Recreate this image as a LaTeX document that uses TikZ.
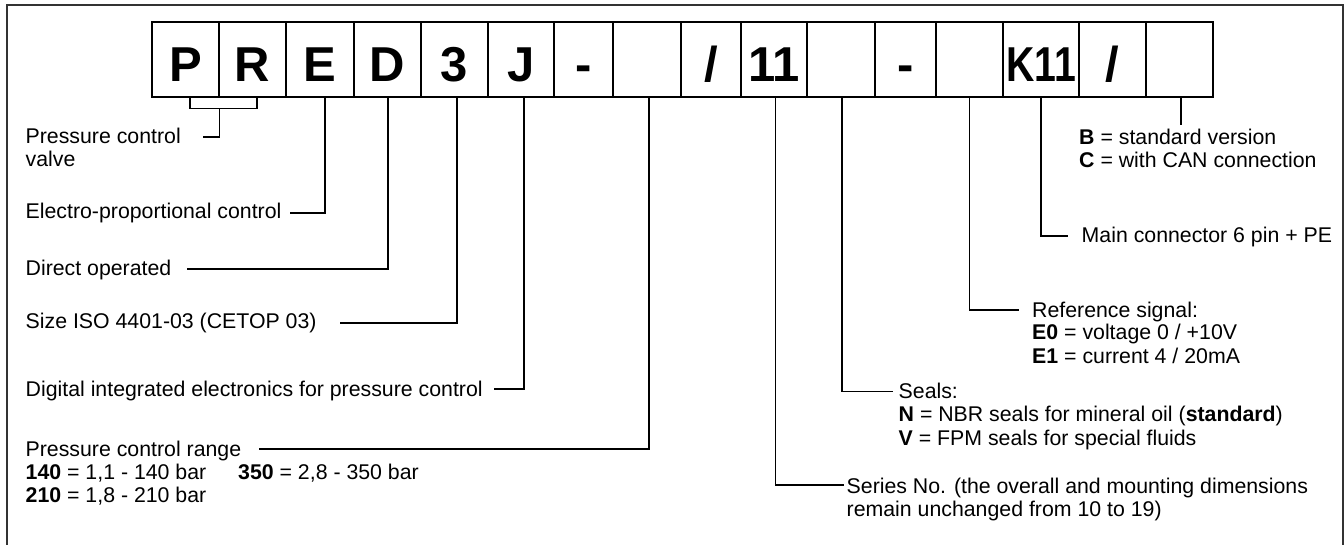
\documentclass[tikz,border=0pt]{standalone}
\usepackage{fontspec}
\setmainfont{Liberation Sans}
\begin{document}
\begin{tikzpicture}[x=1pt,y=-1pt,
  cell/.style={draw, line width=1.3pt, minimum height=75pt, inner sep=0pt,
    text height=45pt, text depth=0pt, font=\fontsize{49}{49}\selectfont\bfseries},
  lbl/.style={anchor=base west, inner sep=0pt, font=\fontsize{21.3}{23}\selectfont},
  lead/.style={line width=1.2pt},
  frame/.style={line width=1.6pt, draw=black!80}]
\useasboundingbox (0,0) rectangle (1344,545);
\draw[frame] (7,545) -- (7,5) -- (1343,5) -- (1343,545);

% code cells
\foreach \l/\r/\t/\n in {152/219/P/cP, 219/286/R/cR, 286/354/E/cE, 354/421/D/cD,
  421/488/3/c3, 488/554/J/cJ, 554/613/-/cHa, 613/681/{}/cRange, 681/741/{/}/cSa,
  741/807/11/cSer, 807/875/{}/cSeal, 875/936/-/cHb, 936/1003/{}/cRef,
  1003/1079/{\scalebox{0.8}[1]{K11}}/cK, 1079/1146/{/}/cSb, 1146/1213/{}/cVer}
  \node[cell, minimum width={(\r-\l)*1pt}] (\n) at ({(\l+\r)/2},59.5) {\t};

% labels, left side
\node[lbl] (tPR)  at (25.5,144) {Pressure control};
\node[lbl] (tPRb) at (25.5,167) {valve};
\node[lbl] (tE)   at (25.5,219) {Electro-proportional control};
\node[lbl] (tD)   at (25.5,276) {Direct operated};
\node[lbl] (t3)   at (25.5,329) {Size ISO 4401-03 (CETOP 03)};
\node[lbl] (tJ)   at (25.5,396) {Digital integrated electronics for pressure control};
\node[lbl] (tRg)  at (25.5,456) {Pressure control range};
\node[lbl] (tRgb) at (25.5,479) {\textbf{140} = 1,1 - 140 bar};
\node[lbl] (tRgc) at (238,479) {\textbf{350} = 2,8 - 350 bar};
\node[lbl] (tRgd) at (25.5,502) {\textbf{210} = 1,8 - 210 bar};

% labels, right side
\node[lbl] (tV)   at (1079,145) {\textbf{B} = standard version};
\node[lbl] (tVb)  at (1079,168) {\textbf{C} = with CAN connection};
\node[lbl] (tK)   at (1081.5,243) {Main connector 6 pin + PE};
\node[lbl] (tRf)  at (1032,317) {Reference signal:};
\node[lbl] (tRfb) at (1032,340) {\textbf{E0} = voltage 0 / +10V};
\node[lbl] (tRfc) at (1032,363) {\textbf{E1} = current 4 / 20mA};
\node[lbl] (tSe)  at (898.5,398) {Seals:};
\node[lbl] (tSeb) at (898.5,421.5) {\textbf{N} = NBR seals for mineral oil (\textbf{standard})};
\node[lbl] (tSec) at (898.5,445) {\textbf{V} = FPM seals for special fluids};
\node[lbl] (tSr)  at (846.5,493) {Series No. (the overall and mounting dimensions};
\node[lbl] (tSrb) at (846.5,516) {remain unchanged from 10 to 19)};

% leader end points
\coordinate (ePR)  at (203,137);
\coordinate (eE)   at (290,213);
\coordinate (eD)   at (187,269);
\coordinate (e3)   at (340,323);
\coordinate (eJ)   at (494,389);
\coordinate (eRg)  at (259,449);
\coordinate (eSr)  at (844,485);
\coordinate (eSe)  at (893,391.5);
\coordinate (eRf)  at (1019,310);
\coordinate (eK)   at (1068,236);
\coordinate (eV)   at (1181,125);

% leaders
\draw[lead] ([xshift=4.5pt]cP.south) -- ++(0,11) -| ([xshift=4.5pt]cR.south);
\draw[lead] ([yshift=-11pt]cP.south east) |- (ePR);
\draw[lead] ([xshift=5pt]cE.south) |- (eE);
\draw[lead] ([xshift=0.5pt]cD.south) |- (eD);
\draw[lead] ([xshift=2.5pt]c3.south) |- (e3);
\draw[lead] ([xshift=3pt]cJ.south) |- (eJ);
\draw[lead] ([xshift=2pt]cRange.south) |- (eRg);
\draw[lead] ([xshift=1.5pt]cSer.south) |- (eSr);
\draw[lead] ([xshift=1pt]cSeal.south) |- (eSe);
\draw[lead] (cRef.south) |- (eRf);
\draw[lead] (cK.south) |- (eK);
\draw[lead] (cVer.south -| eV) -- (eV);
\end{tikzpicture}
\end{document}
